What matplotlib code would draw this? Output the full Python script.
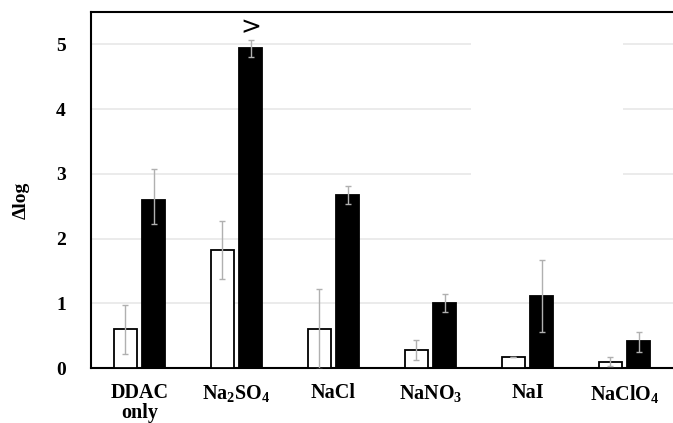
import matplotlib
matplotlib.use("Agg")
import matplotlib.pyplot as plt
from matplotlib.patches import Rectangle
import numpy as np

# Data
labels = ["DDAC\nonly", "Na$_2$SO$_4$", "NaCl", "NaNO$_3$", "NaI", "NaClO$_4$"]
white_vals = [0.60, 1.82, 0.60, 0.28, 0.165, 0.10]
white_err = [0.38, 0.45, 0.62, 0.16, 0.0, 0.065]
black_vals = [2.59, 4.94, 2.67, 1.01, 1.12, 0.41]
black_err_lo = [0.36, 0.13, 0.14, 0.15, 0.57, 0.17]
black_err_hi = [0.49, 0.12, 0.14, 0.13, 0.55, 0.14]
y_ticks = [0, 1, 2, 3, 4, 5]

plt.rcParams["font.family"] = "Liberation Serif"
plt.rcParams["font.weight"] = "bold"
plt.rcParams["mathtext.fontset"] = "custom"
plt.rcParams["mathtext.rm"] = "Liberation Serif:weight=bold"
plt.rcParams["mathtext.it"] = "Liberation Serif:weight=bold"
plt.rcParams["mathtext.bf"] = "Liberation Serif:weight=bold"

fig = plt.figure(figsize=(6.73, 4.23), dpi=100)
ax = fig.add_axes([0.1352, 0.130, 0.8648, 0.8416])

x = np.arange(len(labels))
w = 0.23
off = 0.145
err_kw = dict(ecolor="#b0b0b0", elinewidth=1.0, capsize=2.5, capthick=1.0)

ax.bar(x - off, white_vals, w, color="white", edgecolor="black", linewidth=1.3,
       yerr=white_err, error_kw=err_kw, zorder=3)
ax.bar(x + off, black_vals, w, color="black", edgecolor="black", linewidth=1.3,
       yerr=[black_err_lo, black_err_hi], error_kw=err_kw, zorder=3)

# ">" mark over the Na2SO4 black bar
ax.text(1 + off, 5.27, ">", ha="center", va="center", fontsize=18,
        fontweight="normal", family="DejaVu Sans", zorder=4)

ax.set_xlim(-0.5, 5.5)
ax.set_ylim(0, 5.5)
ax.set_yticks(y_ticks)
ax.set_xticks(x)
ax.set_xticklabels(labels, fontsize=14.5, linespacing=0.95)
ax.tick_params(axis="both", length=0)
ax.tick_params(axis="y", pad=18, labelsize=14)
ax.tick_params(axis="x", pad=11)
ax.set_ylabel("\u0394log", fontsize=14, fontweight="bold")
ax.yaxis.set_label_coords(-0.105, 0.472)

ax.grid(axis="y", color="#e8e8e8", linewidth=1.2, zorder=0)
ax.set_axisbelow(True)
# blank patch where the gridlines are missing in the original
ax.add_patch(Rectangle((3.42, 2.4), 1.56, 3.0, facecolor="white",
                       edgecolor="none", zorder=1))

for s in ["left", "bottom", "top"]:
    ax.spines[s].set_linewidth(1.5)
ax.spines["right"].set_visible(False)

fig.savefig("out.png", dpi=100)
